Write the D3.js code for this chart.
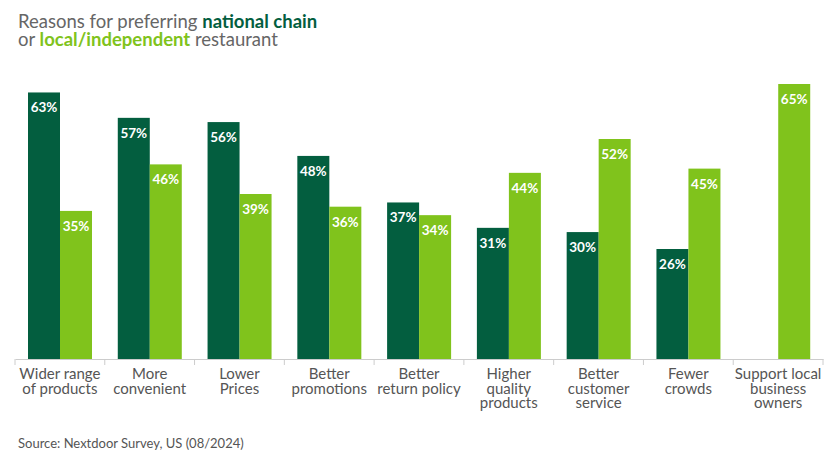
<!DOCTYPE html>
<html><head><meta charset="utf-8">
<script src="https://cdn.jsdelivr.net/npm/d3@7"></script>
<style>body{margin:0;background:#fff;}svg{display:block;font-family:Lato,sans-serif;}</style>
</head><body>
<svg id="chart" width="839" height="476"></svg>
<script>
const categories = [
  ["Wider range","of products"],
  ["More","convenient"],
  ["Lower","Prices"],
  ["Better","promotions"],
  ["Better","return policy"],
  ["Higher","quality","products"],
  ["Better","customer","service"],
  ["Fewer","crowds"],
  ["Support local","business","owners"]
];
const nationalChain = [63, 57, 56, 48, 37, 31, 30, 26, null];
const localIndependent = [35, 46, 39, 36, 34, 44, 52, 45, 65];
const seriesKeys = ["chain", "local"];
const colors = {chain: "#035e3f", local: "#80c31c"};

const svg = d3.select("#chart");
const idx = categories.map((d, i) => i);
const x0 = d3.scaleBand().domain(idx).range([15, 823]).padding(0);
const x1 = d3.scaleBand().domain(seriesKeys).range([13, 13 + 64]).padding(0);
const y = d3.scaleLinear().domain([0, 65]).range([359, 84]);

// Title
const title = svg.append("text").attr("x", 18).attr("y", 28).attr("font-size", 18.5).attr("fill", "#666");
title.append("tspan").text("Reasons for preferring ");
title.append("tspan").attr("font-weight", "bold").attr("fill", colors.chain).text("national chain");
const title2 = svg.append("text").attr("x", 18).attr("y", 46).attr("font-size", 18.5).attr("fill", "#666");
title2.append("tspan").text("or ");
title2.append("tspan").attr("font-weight", "bold").attr("fill", colors.local).text("local/independent");
title2.append("tspan").text(" restaurant");

const rows = idx.map(i => ({i, chain: nationalChain[i], local: localIndependent[i]}));
const g = svg.append("g").selectAll("g").data(rows).join("g")
  .attr("transform", d => `translate(${x0(d.i)},0)`);

const bars = g.selectAll("g.bar").data(d => seriesKeys.filter(k => d[k] != null).map(k => ({key: k, value: d[k]})))
  .join("g").attr("class", "bar");
bars.append("rect")
  .attr("x", d => x1(d.key))
  .attr("width", x1.bandwidth())
  .attr("y", d => y(d.value))
  .attr("height", d => y(0) - y(d.value))
  .attr("fill", d => colors[d.key]);
bars.append("text")
  .attr("x", d => x1(d.key) + x1.bandwidth() / 2)
  .attr("y", d => y(d.value) + 20)
  .attr("text-anchor", "middle")
  .attr("font-size", 13.5)
  .attr("font-weight", "bold")
  .attr("fill", "#fff")
  .text(d => d.value + "%");

// Axis
const axis = svg.append("g").attr("transform", "translate(0,359)")
  .call(d3.axisBottom(x0).tickSize(0).tickFormat(""));
axis.select(".domain").attr("stroke", "#ccc");
const ticks = idx.map(i => x0(i)).concat([x0.range()[1]]);
svg.append("g").selectAll("line").data(ticks).join("line")
  .attr("x1", d => d).attr("x2", d => d).attr("y1", 359).attr("y2", 365)
  .attr("stroke", "#ccc");

// Category labels
const lbl = svg.append("g").selectAll("text").data(rows).join("text")
  .attr("text-anchor", "middle")
  .attr("font-size", 15)
  .attr("fill", "#555")
  .attr("transform", d => `translate(${x0(d.i) + x0.bandwidth() / 2},379)`);
lbl.selectAll("tspan").data(d => categories[d.i]).join("tspan")
  .attr("x", 0).attr("y", (d, j) => j * 14.5).text(d => d);

// Source
svg.append("text").attr("x", 18).attr("y", 448).attr("font-size", 13).attr("fill", "#555")
  .text("Source: Nextdoor Survey, US (08/2024)");
</script>
</body></html>
